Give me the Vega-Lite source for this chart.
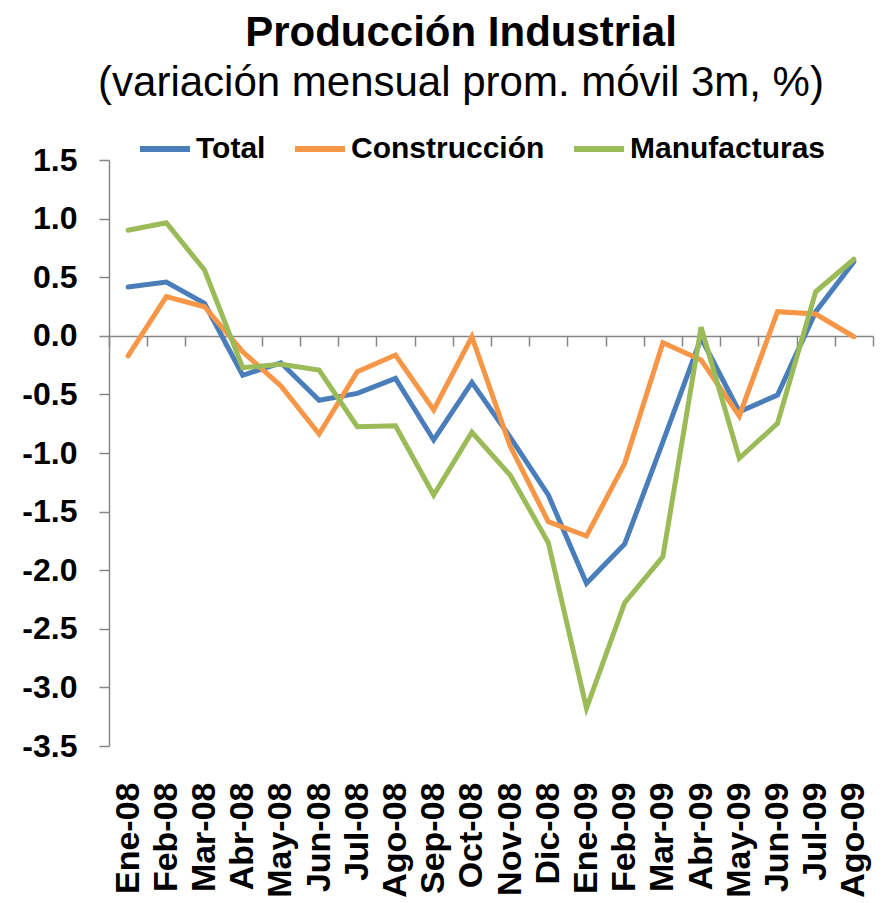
{
  "$schema": "https://vega.github.io/schema/vega-lite/v6.json",
  "width": 764,
  "height": 586,
  "autosize": {"type": "none"},
  "padding": {"left": 109, "top": 160, "right": 11, "bottom": 157},
  "background": "white",
  "title": {
    "text": "Producción Industrial",
    "subtitle": "(variación mensual prom. móvil 3m, %)",
    "font": "Liberation Sans",
    "fontSize": 42,
    "fontWeight": "bold",
    "color": "black",
    "subtitleFont": "Liberation Sans",
    "subtitleFontSize": 42,
    "subtitleFontWeight": "normal",
    "subtitleColor": "black",
    "subtitlePadding": 8,
    "anchor": "middle",
    "dx": -30,
    "offset": 16
  },
  "data": {
    "values": [
      {"mes": "Ene-08", "serie": "Total", "valor": 0.416},
      {"mes": "Feb-08", "serie": "Total", "valor": 0.459},
      {"mes": "Mar-08", "serie": "Total", "valor": 0.277},
      {"mes": "Abr-08", "serie": "Total", "valor": -0.337},
      {"mes": "May-08", "serie": "Total", "valor": -0.23},
      {"mes": "Jun-08", "serie": "Total", "valor": -0.55},
      {"mes": "Jul-08", "serie": "Total", "valor": -0.491},
      {"mes": "Ago-08", "serie": "Total", "valor": -0.363},
      {"mes": "Sep-08", "serie": "Total", "valor": -0.889},
      {"mes": "Oct-08", "serie": "Total", "valor": -0.397},
      {"mes": "Nov-08", "serie": "Total", "valor": -0.864},
      {"mes": "Dic-08", "serie": "Total", "valor": -1.358},
      {"mes": "Ene-09", "serie": "Total", "valor": -2.112},
      {"mes": "Feb-09", "serie": "Total", "valor": -1.776},
      {"mes": "Mar-09", "serie": "Total", "valor": -0.906},
      {"mes": "Abr-09", "serie": "Total", "valor": -0.019},
      {"mes": "May-09", "serie": "Total", "valor": -0.648},
      {"mes": "Jun-09", "serie": "Total", "valor": -0.505},
      {"mes": "Jul-09", "serie": "Total", "valor": 0.206},
      {"mes": "Ago-09", "serie": "Total", "valor": 0.632},
      {"mes": "Ene-08", "serie": "Construcción", "valor": -0.172},
      {"mes": "Feb-08", "serie": "Construcción", "valor": 0.334},
      {"mes": "Mar-08", "serie": "Construcción", "valor": 0.248},
      {"mes": "Abr-08", "serie": "Construcción", "valor": -0.136},
      {"mes": "May-08", "serie": "Construcción", "valor": -0.428},
      {"mes": "Jun-08", "serie": "Construcción", "valor": -0.838},
      {"mes": "Jul-08", "serie": "Construcción", "valor": -0.306},
      {"mes": "Ago-08", "serie": "Construcción", "valor": -0.164},
      {"mes": "Sep-08", "serie": "Construcción", "valor": -0.633},
      {"mes": "Oct-08", "serie": "Construcción", "valor": -0.008},
      {"mes": "Nov-08", "serie": "Construcción", "valor": -0.94},
      {"mes": "Dic-08", "serie": "Construcción", "valor": -1.586},
      {"mes": "Ene-09", "serie": "Construcción", "valor": -1.708},
      {"mes": "Feb-09", "serie": "Construcción", "valor": -1.088},
      {"mes": "Mar-09", "serie": "Construcción", "valor": -0.059},
      {"mes": "Abr-09", "serie": "Construcción", "valor": -0.206},
      {"mes": "May-09", "serie": "Construcción", "valor": -0.684},
      {"mes": "Jun-09", "serie": "Construcción", "valor": 0.206},
      {"mes": "Jul-09", "serie": "Construcción", "valor": 0.186},
      {"mes": "Ago-09", "serie": "Construcción", "valor": -0.008},
      {"mes": "Ene-08", "serie": "Manufacturas", "valor": 0.9},
      {"mes": "Feb-08", "serie": "Manufacturas", "valor": 0.965},
      {"mes": "Mar-08", "serie": "Manufacturas", "valor": 0.561},
      {"mes": "Abr-08", "serie": "Manufacturas", "valor": -0.272},
      {"mes": "May-08", "serie": "Manufacturas", "valor": -0.243},
      {"mes": "Jun-08", "serie": "Manufacturas", "valor": -0.292},
      {"mes": "Jul-08", "serie": "Manufacturas", "valor": -0.776},
      {"mes": "Ago-08", "serie": "Manufacturas", "valor": -0.767},
      {"mes": "Sep-08", "serie": "Manufacturas", "valor": -1.358},
      {"mes": "Oct-08", "serie": "Manufacturas", "valor": -0.823},
      {"mes": "Nov-08", "serie": "Manufacturas", "valor": -1.188},
      {"mes": "Dic-08", "serie": "Manufacturas", "valor": -1.765},
      {"mes": "Ene-09", "serie": "Manufacturas", "valor": -3.178},
      {"mes": "Feb-09", "serie": "Manufacturas", "valor": -2.277},
      {"mes": "Mar-09", "serie": "Manufacturas", "valor": -1.885},
      {"mes": "Abr-09", "serie": "Manufacturas", "valor": 0.073},
      {"mes": "May-09", "serie": "Manufacturas", "valor": -1.045},
      {"mes": "Jun-09", "serie": "Manufacturas", "valor": -0.747},
      {"mes": "Jul-09", "serie": "Manufacturas", "valor": 0.376},
      {"mes": "Ago-09", "serie": "Manufacturas", "valor": 0.653}
    ]
  },
  "mark": {"type": "line", "strokeWidth": 5, "strokeCap": "round", "strokeJoin": "miter"},
  "encoding": {
    "x": {
      "field": "mes",
      "type": "ordinal",
      "sort": null,
      "bandPosition": 0.5,
      "scale": {"type": "band", "paddingInner": 0, "paddingOuter": 0},
      "axis": {
        "title": null,
        "tickBand": "extent",
        "offset": -410,
        "domainColor": "#868686",
        "domainWidth": 1.5,
        "tickColor": "#868686",
        "tickWidth": 1.5,
        "tickSize": 10,
        "labelAngle": -90,
        "labelFont": "Liberation Sans",
        "labelFontSize": 34,
        "labelFontWeight": "bold",
        "labelColor": "black",
        "labelPadding": 436,
        "labelOverlap": false,
        "grid": false
      }
    },
    "y": {
      "field": "valor",
      "type": "quantitative",
      "scale": {"domain": [-3.5, 1.5], "nice": false, "zero": false},
      "axis": {
        "title": null,
        "values": [-3.5, -3, -2.5, -2, -1.5, -1, -0.5, 0, 0.5, 1, 1.5],
        "format": ".1f",
        "labelExpr": "replace(datum.label, '−', '-')",
        "grid": false,
        "domainColor": "#868686",
        "domainWidth": 1.5,
        "tickColor": "#868686",
        "tickWidth": 1.5,
        "tickSize": 10,
        "labelFont": "Liberation Sans",
        "labelFontSize": 32,
        "labelFontWeight": "bold",
        "labelColor": "black",
        "labelPadding": 22
      }
    },
    "color": {
      "field": "serie",
      "type": "nominal",
      "scale": {
        "domain": ["Total", "Construcción", "Manufacturas"],
        "range": ["#4A7EBB", "#F79646", "#9BBB59"]
      },
      "legend": {
        "title": null,
        "orient": "none",
        "legendX": 28,
        "legendY": -39,
        "direction": "horizontal",
        "symbolType": "stroke",
        "symbolSize": 2500,
        "symbolStrokeWidth": 6,
        "labelFont": "Liberation Sans",
        "labelFontSize": 30,
        "labelFontWeight": "bold",
        "labelColor": "black",
        "labelOffset": 3,
        "labelLimit": 0,
        "columnPadding": 17
      }
    }
  },
  "config": {
    "view": {"stroke": null}
  }
}
